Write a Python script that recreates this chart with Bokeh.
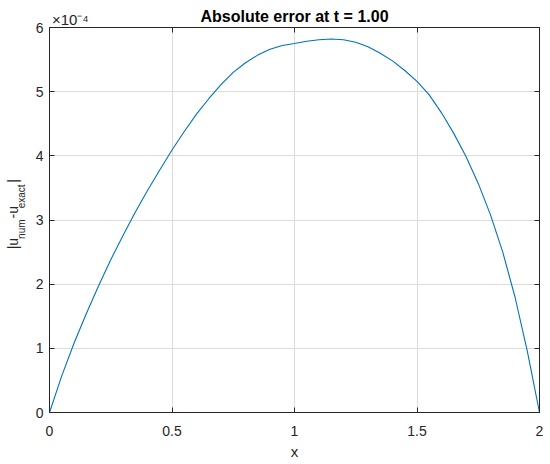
from bokeh.plotting import figure
from bokeh.models import LinearAxis, FixedTicker, Range1d, CustomJSTickFormatter
from bokeh.embed import file_html
from bokeh.resources import INLINE

# x positions and absolute error (units of 1e-4)
x_vals = [0.00, 0.05, 0.10, 0.15, 0.20, 0.25, 0.30, 0.35, 0.40, 0.45,
          0.50, 0.55, 0.60, 0.65, 0.70, 0.75, 0.80, 0.85, 0.90, 0.95,
          1.00, 1.05, 1.10, 1.15, 1.20, 1.25, 1.30, 1.35, 1.40, 1.45,
          1.50, 1.55, 1.60, 1.65, 1.70, 1.75, 1.80, 1.85, 1.90, 1.95, 2.00]
err_e4 = [0.00, 0.57, 1.08, 1.54, 1.97, 2.38, 2.76, 3.12, 3.46, 3.78,
          4.09, 4.38, 4.65, 4.89, 5.11, 5.30, 5.45, 5.57, 5.66, 5.72,
          5.75, 5.785, 5.81, 5.82, 5.81, 5.77, 5.70, 5.60, 5.48, 5.33,
          5.16, 4.95, 4.67, 4.35, 3.99, 3.57, 3.08, 2.50, 1.80, 0.96, 0.00]
x_ticks = [0, 0.5, 1, 1.5, 2]
y_ticks = [0, 1, 2, 3, 4, 5, 6]
title_text = "Absolute error at t = 1.00"
exp_text = "\u00d710\u207b\u2074"
x_label = "x"

FONT = "Liberation Sans"
AX = "#262626"
NB = "\u00a0"

L, R, T, B = 49, 11, 27, 52
W, H = 550, 464

p = figure(width=W, height=H, x_range=Range1d(0, 2), y_range=Range1d(0, 6),
           output_backend="svg", toolbar_location=None, title=None,
           min_border_left=L, min_border_right=R, min_border_top=T, min_border_bottom=B)

p.line(x_vals, err_e4, line_color="#0072BD", line_width=1.1)

for ax in (p.xaxis[0], p.yaxis[0]):
    ax.axis_line_color = AX
    ax.major_tick_line_color = AX
    ax.major_tick_in = 5
    ax.major_tick_out = 0
    ax.minor_tick_line_color = None
    ax.major_label_text_font = FONT
    ax.major_label_text_font_size = "14px"
    ax.major_label_text_color = AX

p.xaxis[0].ticker = FixedTicker(ticks=x_ticks)
p.yaxis[0].ticker = FixedTicker(ticks=y_ticks)
p.xaxis[0].major_label_standoff = 13
p.yaxis[0].major_label_standoff = 6
p.xaxis[0].axis_label = x_label
p.xaxis[0].axis_label_text_font = FONT
p.xaxis[0].axis_label_text_font_size = "15px"
p.xaxis[0].axis_label_text_font_style = "normal"
p.xaxis[0].axis_label_text_color = AX
p.xaxis[0].axis_label_standoff = 4

# y label |u_num - u_exact|: subscripts as the y axis label, main text on an outer axis
sub_text = NB * 8 + "num" + NB * 4 + "exact" + NB * 2
main_text = NB * 3 + "|u" + NB * 5 + "-u" + NB * 6 + "|"
ya = p.yaxis[0]
ya.axis_label = sub_text
ya.axis_label_text_font = FONT
ya.axis_label_text_font_size = "10px"
ya.axis_label_text_font_style = "normal"
ya.axis_label_text_color = AX
ya.axis_label_standoff = 6

outer = LinearAxis(ticker=FixedTicker(ticks=[]), axis_line_color=None,
                   major_tick_line_color=None, minor_tick_line_color=None,
                   axis_label=main_text, axis_label_text_font=FONT,
                   axis_label_text_font_size="14px", axis_label_text_font_style="normal",
                   axis_label_text_color=AX, axis_label_standoff=-8)
p.add_layout(outer, "left")

# box ticks on top and right; top axis also carries the exponent and the title
blank = CustomJSTickFormatter(code="return ''")
top = LinearAxis(ticker=FixedTicker(ticks=x_ticks), formatter=blank,
                 major_label_overrides={0: NB * 10 + exp_text},
                 major_label_text_font=FONT, major_label_text_font_size="15px",
                 major_label_text_color=AX, major_label_standoff=0,
                 major_tick_in=5, major_tick_out=0, minor_tick_line_color=None,
                 axis_line_color=AX, major_tick_line_color=AX,
                 axis_label=title_text, axis_label_text_font=FONT,
                 axis_label_text_font_size="16px", axis_label_text_font_style="bold",
                 axis_label_text_color="#000000", axis_label_standoff=-17)
right = LinearAxis(ticker=FixedTicker(ticks=y_ticks), formatter=blank,
                   major_tick_in=5, major_tick_out=0, minor_tick_line_color=None,
                   axis_line_color=AX, major_tick_line_color=AX, major_label_standoff=0)
p.add_layout(top, "above")
p.add_layout(right, "right")

p.xgrid.ticker = FixedTicker(ticks=x_ticks)
p.ygrid.ticker = FixedTicker(ticks=y_ticks)
p.grid.grid_line_color = "#dcdcdc"
p.grid.grid_line_width = 1
p.outline_line_color = AX
p.background_fill_color = "white"
p.border_fill_color = "white"

open("out.html", "w").write(file_html(p, INLINE))
